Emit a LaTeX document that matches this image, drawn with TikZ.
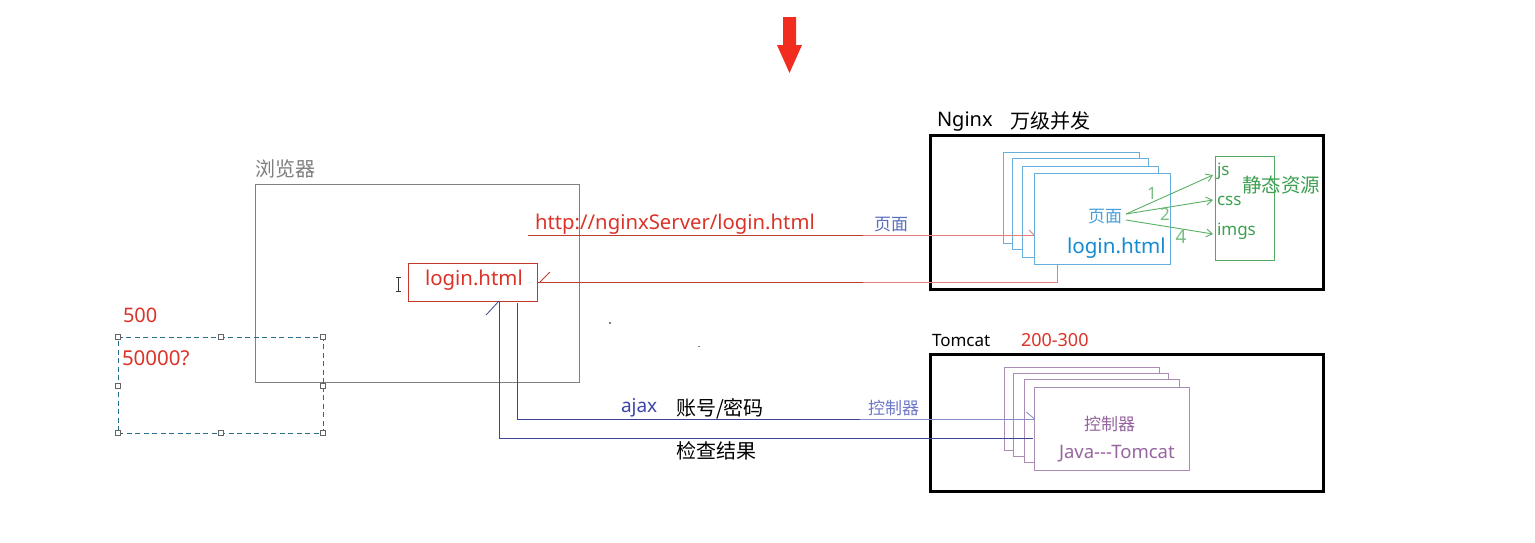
\documentclass[tikz,border=0pt]{standalone}
\usepackage{fontspec}
\setmainfont{Noto Sans}
\newfontfamily\cjk{Noto Sans CJK SC}
\usetikzlibrary{arrows.meta}
\newcommand{\setfs}[1]{\fontsize{#1}{#1}\selectfont}
\definecolor{graybox}{RGB}{128,128,128}
\definecolor{tred}{RGB}{220,50,40}
\definecolor{redbox}{RGB}{192,57,43}
\definecolor{reddark}{RGB}{190,60,50}
\definecolor{redlight}{RGB}{232,125,125}
\definecolor{arrowred}{RGB}{240,45,30}
\definecolor{pagelbl}{RGB}{90,110,190}
\definecolor{nblue}{RGB}{100,175,220}
\definecolor{pageblue}{RGB}{70,160,220}
\definecolor{loginblue}{RGB}{20,140,210}
\definecolor{gbox}{RGB}{80,170,100}
\definecolor{gtext}{RGB}{60,160,80}
\definecolor{garrow}{RGB}{90,175,100}
\definecolor{gnum}{RGB}{120,190,130}
\definecolor{pbox}{RGB}{170,140,180}
\definecolor{ptext}{RGB}{150,100,160}
\definecolor{bdark}{RGB}{60,70,150}
\definecolor{blight}{RGB}{130,140,200}
\definecolor{ajaxblue}{RGB}{60,70,170}
\definecolor{ctrllbl}{RGB}{110,120,200}
\definecolor{dashc}{RGB}{40,110,140}
\definecolor{handle}{RGB}{100,100,100}
\begin{document}
\begin{tikzpicture}[x=1pt,y=-1pt,
  txt/.style={inner sep=0pt, outer sep=0pt, anchor=base west},
  ctxt/.style={inner sep=0pt, outer sep=0pt, anchor=west},
  box/.style={draw, inner sep=0pt, outer sep=0pt, anchor=north west, fill=white, line width=1pt},
  nbox/.style={box, draw=nblue, minimum width=136pt, minimum height=91pt},
  pbx/.style={box, draw=pbox, minimum width=155pt, minimum height=83pt},
  srv/.style={box, draw=black, line width=3pt, minimum width=393pt},
  hdl/.style={draw=handle, fill=white, inner sep=0pt, outer sep=0pt, minimum size=5pt, line width=0.8pt},
  barb/.style={line width=0.8pt},
  garr/.style={draw=garrow, line width=0.9pt, -{Straight Barb[length=6pt,width=8pt]}}
]
\useasboundingbox (0,0) rectangle (1535,542);
\fill[white] (0,0) rectangle (1535,542);

% top red arrow
\fill[arrowred] (783,17) -- (796,17) -- (796,45) -- (802,45) -- (789.5,73) -- (777,45) -- (783,45) -- cycle;

% browser
\node[box, draw=graybox, fill=none, minimum width=324pt, minimum height=198pt] (browser) at (255,184) {};
\node[ctxt, font={\cjk\setfs{20}}, text=graybox] (browserlbl) at (255,168.5) {浏览器};

% login box in browser
\node[box, draw=redbox, minimum width=129pt, minimum height=38pt] (loginbox) at (408,263) {};
\node[txt, font=\setfs{20.4}, text=tred] (logintxt) at (425,285.7) {login.html};

% cursor
\draw[line width=1pt, black!80] (398,278) -- (398,291);
\draw[line width=0.8pt, black!80] (395.5,277.5) -- (400.5,277.5) (395.5,291.5) -- (400.5,291.5);

% tiny marks
\fill[black!50] (609,322) rectangle (610.5,324);
\fill[black!50] (698,345.5) rectangle (699.5,347);

% left labels and dashed selection
\node[txt, font=\setfs{20}, text=tred] (n500) at (123,322.7) {500};
\node[box, draw=dashc, fill=none, dashed, dash pattern=on 5pt off 3.5pt, minimum width=205pt, minimum height=96pt] (sel) at (118,337) {};
\node[txt, font=\setfs{20.5}, text=tred] (n50000) at (122,365) {50000?};
\foreach \hx/\hy [count=\i] in {118/337,221/337,323/337,118/386,323/386,118/433,221/433,323/433}
  \node[hdl] (h\i) at (\hx,\hy) {};

% Nginx server
\node[srv, minimum height=154pt] (nginx) at (930,135) {};
\node[txt, font=\setfs{20}] (nginxlbl) at (937,126.7) {Nginx};
\node[ctxt, font={\cjk\setfs{20}}] (nginxsub) at (1010,121) {万级并发};
\node[nbox] (nb1) at (1003,152) {};
\node[nbox] (nb2) at (1012,158) {};
\node[nbox] (nb3) at (1022,166) {};
\node[nbox] (nb4) at (1034,173) {};
\node[ctxt, font={\cjk\setfs{17}}, text=pageblue] (pagein) at (1088,216.7) {页面};
\node[txt, font=\setfs{20.6}, text=loginblue] (loginin) at (1067,253.3) {login.html};
\node[box, draw=gbox, fill=none, minimum width=59pt, minimum height=104pt] (gbx) at (1215,156) {};
\node[txt, font=\setfs{17}, text=gtext] (js) at (1217,175) {js};
\node[txt, font=\setfs{17}, text=gtext] (css) at (1217,205) {css};
\node[txt, font=\setfs{17}, text=gtext] (imgs) at (1217,235.7) {imgs};
\node[ctxt, font={\cjk\setfs{19.5}}, text=gtext] (static) at (1242,185) {静态资源};
\coordinate (pgout) at (1126,214);
\draw[garr] (pgout) -- (1213,175);
\draw[garr] (pgout) -- (1213,200);
\draw[garr] (1126,220) -- (1213,234);
\node[font=\setfs{17}, text=gnum, inner sep=0pt] (num1) at (1152,193) {1};
\node[font=\setfs{17}, text=gnum, inner sep=0pt] (num2) at (1165,214) {2};
\node[font=\setfs{19}, text=gnum, inner sep=0pt] (num4) at (1181,237) {4};

% Tomcat server
\node[srv, minimum height=137pt] (tomcat) at (930,354.5) {};
\node[txt, font=\setfs{17}] (tomcatlbl) at (932,346.7) {Tomcat};
\node[txt, font=\setfs{18}, text=tred] (range) at (1021,346.7) {200-300};
\node[pbx] (pb1) at (1004,367) {};
\node[pbx] (pb2) at (1013,373) {};
\node[pbx] (pb3) at (1024,379) {};
\node[pbx] (pb4) at (1034,387) {};
\node[ctxt, font={\cjk\setfs{17}}, text=ptext] (ctrlin) at (1084,424) {控制器};
\node[txt, font=\setfs{18.5}, text=ptext] (javat) at (1059,458.3) {Java{-}{-}{-}Tomcat};

% request for page
\node[txt, font=\setfs{20.3}, text=tred] (url) at (535,229.3) {http://nginxServer/login.html};
\node[ctxt, font={\cjk\setfs{17}}, text=pagelbl] (pagelabel) at (874,225) {页面};
\coordinate (hA) at (528,235);
\coordinate (hB) at (863,235);
\coordinate (hC) at (1034,235);
\draw[reddark, line width=1pt] (hA) -- (hB);
\draw[redlight, line width=1pt] (hB) -- (hC);
\draw[redlight, barb] (hC) -- ++(-5,-5);

% response
\coordinate (r1) at (1057,264);
\coordinate (r2) at (1057,282);
\coordinate (r3) at (863,282);
\coordinate (r4) at (538,282);
\draw[redlight, line width=1pt] (r1) -- (r2) -- (r3);
\draw[reddark, line width=1pt] (r3) -- (r4);
\draw[reddark, barb] (r4) ++(2,0) -- ++(10,-10);

% ajax request
\node[txt, font=\setfs{19}, text=ajaxblue] (ajax) at (621,412.3) {ajax};
\node[ctxt, font={\cjk\setfs{20}}] (cred) at (676,408.3) {账号/密码};
\node[ctxt, font={\cjk\setfs{17}}, text=ctrllbl] (ctrllabel) at (868,408.3) {控制器};
\coordinate (b1) at (517,303);
\coordinate (b2) at (517,419);
\coordinate (b3) at (860,419);
\coordinate (b4) at (1034.5,419);
\draw[bdark, line width=1pt] (b1) -- (b2) -- (b3);
\draw[blight, line width=1pt] (b3) -- (b4);
\draw[blight, barb] (b4) -- ++(-8,-7);

% check result
\node[ctxt, font={\cjk\setfs{20}}] (result) at (676,450.7) {检查结果};
\coordinate (c1) at (1033,438);
\coordinate (c2) at (499,438);
\coordinate (c3) at (499,301);
\draw[bdark, line width=1pt] (c1) -- (c2) -- (c3);
\draw[bdark, barb] (c3) -- ++(-13,14);
\end{tikzpicture}
\end{document}
